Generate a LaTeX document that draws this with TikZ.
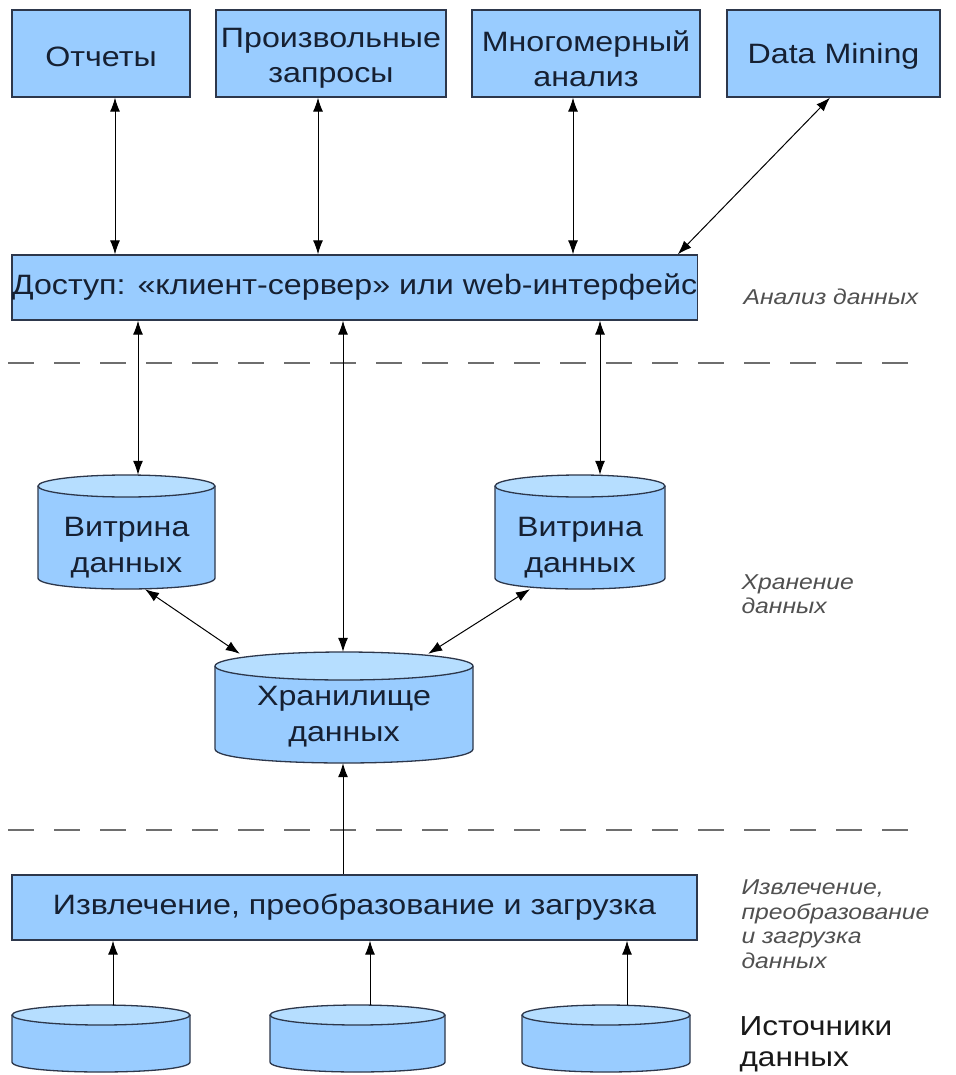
\documentclass[tikz,border=0pt]{standalone}
\usepackage{fontspec}
\setmainfont{Liberation Sans}[FakeStretch=1.15]
\usetikzlibrary{arrows.meta,calc}
\definecolor{boxblue}{RGB}{153,204,255}
\definecolor{topblue}{RGB}{182,222,255}
\definecolor{edgec}{RGB}{45,55,75}
\definecolor{textc}{RGB}{22,32,50}
\definecolor{labgray}{RGB}{80,80,80}
\definecolor{dashgray}{RGB}{110,110,110}
\newcommand\cylshape[5]{% cx, top-ellipse centre y, bottom centre y, rx, ry
  \draw[cylline, fill=boxblue] ({#1-#4},#2) -- ({#1-#4},#3) .. controls ({#1-#4},{#3+1.333*#5}) and ({#1+#4},{#3+1.333*#5}) .. ({#1+#4},#3) -- ({#1+#4},#2);
  \draw[cylline, fill=topblue] (#1,#2) ellipse [x radius=#4, y radius=#5];
}
\begin{document}
\begin{tikzpicture}[x=1pt,y=-1pt,
  box/.style={draw=edgec, line width=1.3pt, fill=boxblue, minimum height=87pt, inner sep=0pt},
  boxtext/.style={align=center, inner sep=0pt, text=textc, font=\fontsize{28}{35}\selectfont},
  widebox/.style={draw=edgec, line width=1.3pt, fill=boxblue, minimum height=65pt, minimum width=685pt, inner sep=0pt, text=textc, font=\fontsize{28}{35}\selectfont},
  cylline/.style={draw=edgec, line width=1.3pt},
  cylarea/.style={rectangle, inner sep=0pt},
  cyltext/.style={align=center, font=\fontsize{28}{36}\selectfont, text=textc},
  sidelab/.style={anchor=west, align=left, text=labgray, font=\fontsize{21.5}{24.5}\selectfont\itshape},
  arr/.style={-{Latex[length=14pt,width=10pt]}, line width=1pt},
  arrboth/.style={{Latex[length=14pt,width=10pt]}-{Latex[length=14pt,width=10pt]}, line width=1pt},
  sep/.style={draw=dashgray, line width=1.4pt, dash pattern=on 26pt off 20pt}
]
\fill[white] (0,0) rectangle (955,1075);
\useasboundingbox (0,0) rectangle (955,1075);

% top boxes
\node[box, minimum width=178pt] (rep) at (101,53.5) {};
\node[boxtext] (rept) at ($(rep.center)+(0,3)$) {Отчеты};
\node[box, minimum width=230pt] (adhoc) at (331,53.5) {};
\node[boxtext] (adhoct) at ($(adhoc.center)+(0,5)$) {Произвольные\\запросы};
\node[box, minimum width=228pt] (olap) at (586,53.5) {};
\node[boxtext] (olapt) at ($(olap.center)+(0,5)$) {Многомерный\\анализ};
\node[box, minimum width=213pt] (dm) at (833.5,53.5) {};
\node[boxtext] (dmt) at ($(dm.center)+(0,3)$) {Data Mining};

% access and ETL
\node[widebox] (access) at (354.5,287.5) {Доступ: «клиент-сервер» или web-интерфейс};
\node[widebox] (etl) at (354.5,907.5) {Извлечение, преобразование и загрузка};

% separators
\draw[sep] (8,363) -- (920,363);
\draw[sep] (8,830) -- (920,830);

% cylinders
\cylshape{126.5}{486}{578}{88.5}{11}
\node[cylarea, minimum width=177pt, minimum height=114pt] (ws1) at (126.5,532) {};
\node[cyltext] (ws1t) at (126.5,548) {Витрина\\данных};

\cylshape{580}{486}{578}{85}{11}
\node[cylarea, minimum width=170pt, minimum height=114pt] (ws2) at (580,532) {};
\node[cyltext] (ws2t) at (580,548) {Витрина\\данных};

\cylshape{344}{666}{749}{129}{14}
\node[cylarea, minimum width=258pt, minimum height=111pt] (dw) at (344,707.5) {};
\node[cyltext] (dwt) at (344,717) {Хранилище\\данных};

\cylshape{101}{1015}{1062}{89}{10}
\node[cylarea, minimum width=178pt, minimum height=67pt] (src1) at (101,1038.5) {};
\cylshape{357.5}{1015}{1062}{87.5}{10}
\node[cylarea, minimum width=175pt, minimum height=67pt] (src2) at (357.5,1038.5) {};
\cylshape{606}{1015}{1062}{84}{10}
\node[cylarea, minimum width=168pt, minimum height=67pt] (src3) at (606,1038.5) {};

% side labels
\node[sidelab] (lab1) at (740,297) {Анализ данных};
\node[sidelab] (lab2) at (738,594) {Хранение\\данных};
\node[sidelab] (lab3) at (738,924) {Извлечение,\\преобразование\\и загрузка\\данных};
\node[anchor=west, align=left, text=black!90, font=\fontsize{27.5}{31}\selectfont] (lab4) at (736,1044) {Источники\\данных};

% connectors top
\draw[arrboth] ([xshift=14pt]rep.south) -- ([xshift=14pt]rep.south |- access.north);
\draw[arrboth] ([xshift=-13pt]adhoc.south) -- ([xshift=-13pt]adhoc.south |- access.north);
\draw[arrboth] ([xshift=-13pt]olap.south) -- ([xshift=-13pt]olap.south |- access.north);
\draw[arrboth] ([xshift=-3.5pt]dm.south) -- ([xshift=-20pt]access.north east);

% access to storage
\draw[arrboth] ([xshift=11.5pt]ws1.north |- access.south) -- ([xshift=11.5pt]ws1.north);
\draw[arrboth] ([xshift=-1pt]dw.north |- access.south) -- ([xshift=-1pt]dw.north);
\draw[arrboth] ([xshift=20pt]ws2.north |- access.south) -- ([xshift=20pt]ws2.north);

% marts to warehouse
\draw[arrboth] ([xshift=18.5pt]ws1.south) -- ([xshift=25pt,yshift=-2pt]dw.north west);
\draw[arrboth] ([xshift=-50pt]ws2.south) -- ([xshift=-45pt,yshift=-2pt]dw.north east);

% ETL to warehouse
\draw[arr] ([xshift=-1pt]etl.north -| dw.south) -- ([xshift=-1pt]dw.south);

% sources to ETL
\draw[arr] ([xshift=12pt]src1.north) -- ([xshift=12pt]src1.north |- etl.south);
\draw[arr] ([xshift=12.5pt]src2.north) -- ([xshift=12.5pt]src2.north |- etl.south);
\draw[arr] ([xshift=21pt]src3.north) -- ([xshift=21pt]src3.north |- etl.south);
\end{tikzpicture}
\end{document}
